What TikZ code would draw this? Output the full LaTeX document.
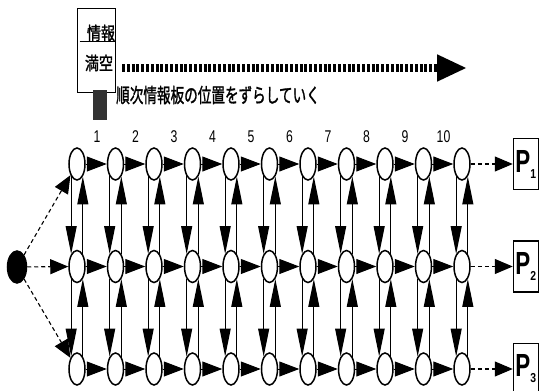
\documentclass[tikz,border=0pt]{standalone}
\usepackage{fontspec}
\setmainfont{Liberation Sans}
\newfontfamily\cjk[AutoFakeBold=1.5]{Noto Sans CJK JP}
\usetikzlibrary{arrows.meta,positioning,shapes.geometric}

\begin{document}
\begin{tikzpicture}[
	x=1pt, y=-1pt,
	>=Stealth,
	st/.style={
		draw, ellipse, line width=1.5pt, fill=white,
		minimum width=16pt, minimum height=32pt, inner sep=0pt
	},
	src/.style={st, fill=black, minimum width=19pt},
	pbox/.style={draw, line width=1.1pt, minimum width=25pt, minimum height=51pt, inner sep=0pt},
	harr/.style={-{Triangle[length=20pt,width=15pt]}, line width=1pt},
	varr/.style={-{Triangle[length=28pt,width=11pt]}, line width=1.2pt},
	darr/.style={-{Triangle[length=18pt,width=15pt]}, line width=1.1pt, dash pattern=on 4pt off 3pt},
	num/.style={inner sep=0pt},
	jp/.style={inner sep=0pt}
	]
	\useasboundingbox (0,0) rectangle (539,391);

	% information board and shift direction
	\node[draw, line width=0.9pt, minimum width=38pt, minimum height=84pt, inner sep=0pt] (board) at (96,50) {};
	\draw[line width=0.9pt] ([xshift=3pt,yshift=-34pt]board.north west) -- ([yshift=-34pt]board.north east);
	\node[jp] (info) at (101,33) {\scalebox{0.78}[1]{\cjk\bfseries\fontsize{18}{18}\selectfont 情報}};
	\node[jp] (vacancy) at (99,63) {\scalebox{0.78}[1]{\cjk\bfseries\fontsize{18}{18}\selectfont 満空}};
	\node[fill=black!80, minimum width=14pt, minimum height=30pt, inner sep=0pt] (marker) at (100,105) {};
	\coordinate (shift-start) at (122,68);
	\coordinate (shift-end) at (467,68);
	\draw[line width=8pt, dash pattern=on 3pt off 1.8pt, -{Triangle[length=30pt,width=25pt]}] (shift-start) -- (shift-end);
	\node[jp, anchor=west] (shift-text) at (116,95) {\scalebox{0.68}[1]{\cjk\bfseries\fontsize{20}{20}\selectfont 順次情報板の位置をずらしていく}};

	% lattice of states
	\foreach \i in {0,...,10} {
		\node[st] (t-\i) at (77+38.5*\i,164) {};
		\node[st] (m-\i) at (77+38.5*\i,266.5) {};
		\node[st] (b-\i) at (77+38.5*\i,369) {};
	}
	\foreach \i [count=\j] in {0,...,9}
	\node[num] (n-\j) at (97+38.5*\i,137) {\scalebox{0.72}[1]{\fontsize{17}{17}\selectfont \j}};

	\foreach \i [count=\j] in {0,...,9}
	\foreach \r in {t,m,b}
	\draw[harr] (\r-\i) -- (\r-\j);

	\foreach \i in {0,...,10} {
		\draw[varr] (t-\i.245) -- (m-\i.115);
		\draw[varr] (m-\i.65) -- (t-\i.295);
		\draw[varr] (m-\i.245) -- (b-\i.115);
		\draw[varr] (b-\i.65) -- (m-\i.295);
	}

	% source and destinations
	\node[src] (s) at (17,267) {};
	\foreach \r in {t,m,b}
	\draw[darr] (s) -- (\r-0);

	\foreach \r/\k in {t/1,m/2,b/3} {
		\node[pbox, right=42pt of \r-10] (p-\k) {\scalebox{0.7}[1]{\fontsize{32}{32}\selectfont\bfseries P}\raisebox{-6pt}{\scalebox{0.8}[1]{\fontsize{13}{13}\selectfont\bfseries \k}}};
		\draw[darr] (\r-10) -- (p-\k);
	}
\end{tikzpicture}
\end{document}
